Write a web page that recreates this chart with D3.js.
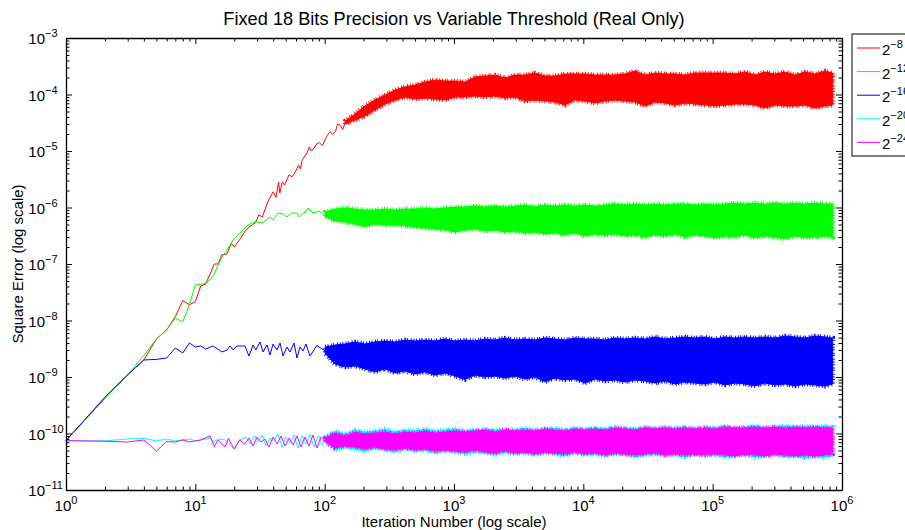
<!DOCTYPE html>
<html>
<head>
<meta charset="utf-8">
<script src="https://cdn.jsdelivr.net/npm/d3@7"></script>
<style>
  body { margin: 0; background: #fff; }
  svg { display: block; font-family: "Liberation Sans", Arial, sans-serif; }
</style>
</head>
<body>
<div id="chart"></div>
<script>
// Square error vs iteration

// tick labels (powers of ten)
var xTickExps = [0, 1, 2, 3, 4, 5, 6];
var yTickExps = [-11, -10, -9, -8, -7, -6, -5, -4, -3];

// legend: thresholds 2^k
var legendExps = [-8, -12, -16, -20, -24];
var seriesColors = ["#ff0000", "#00ff00", "#0000ff", "#00ffff", "#ff00ff"];

// early part of each run: [iteration, square error]
var redEarly = [[1, 7.5e-11], [2, 4.2e-10], [3, 1.1e-9], [4, 2.0e-9], [5, 4.7e-9], [6, 6.8e-9], [7, 1.17e-8], [8, 2.24e-8], [9, 1.9e-8], [10, 2.15e-8], [11, 4.1e-8], [12, 4.4e-8], [13, 6.6e-8], [14, 1.0e-7], [15, 1.0e-7], [16, 1.45e-7], [17.5, 1.5e-7], [19, 2.3e-7], [20, 2.0e-7], [22, 2.7e-7], [24, 3.7e-7], [26, 4.5e-7], [29, 5.3e-7], [31, 7.4e-7], [33, 6.8e-7], [36, 1.2e-6], [37, 1.36e-6], [40, 1.9e-6], [42, 1.5e-6], [44, 2.8e-6], [45, 1.8e-6], [47, 2.8e-6], [49, 2.5e-6], [53, 3.8e-6], [56, 3.5e-6], [58, 3.9e-6], [63, 5.6e-6], [65, 4.8e-6], [67, 6.9e-6], [73, 9.2e-6], [76, 1.18e-5], [79, 1.0e-5], [83, 1.13e-5], [87, 1.35e-5], [91, 1.4e-5], [96, 1.25e-5], [101, 1.6e-5], [105, 1.9e-5], [110, 2.2e-5], [115, 2.0e-5], [121, 2.2e-5], [126, 3.0e-5], [132, 2.9e-5], [138, 2.4e-5], [144, 3.2e-5]];

var greenEarly = [[1, 7.5e-11], [2, 4.2e-10], [3, 1.1e-9], [4, 2.4e-9], [5, 4.7e-9], [6, 6.8e-9], [7, 1.1e-8], [8, 9.5e-9], [9, 1.9e-8], [10, 4.3e-8], [11, 4.3e-8], [12, 4.6e-8], [13, 5.2e-8], [14, 6.6e-8], [15, 9.6e-8], [16, 1.3e-7], [17.6, 1.77e-7], [19.6, 2.66e-7], [21.4, 3.26e-7], [23.4, 4.0e-7], [25.5, 4.9e-7], [27.4, 5.32e-7], [30, 5.54e-7], [32.8, 5.32e-7], [35.2, 6.0e-7], [37.8, 6.8e-7], [39.9, 6.0e-7], [43.6, 8.0e-7], [47.6, 7.7e-7], [51.1, 6.8e-7], [55.9, 8.0e-7], [61.1, 8.0e-7], [63.4, 6.8e-7], [70.5, 8.3e-7], [74.3, 9.8e-7], [81.2, 8.0e-7], [90, 8.6e-7], [101, 7.4e-7]];

var blueEarly = [[1, 7.5e-11], [2, 4.4e-10], [3, 1.1e-9], [4, 2.0e-9], [5, 2.05e-9], [6, 2.17e-9], [7, 3.26e-9], [8, 2.66e-9], [9, 4.0e-9], [10, 3.4e-9], [11, 3.54e-9], [12, 3.13e-9], [13.7, 3.54e-9], [16.1, 2.77e-9], [17.6, 3.01e-9], [18.5, 3.54e-9], [19.6, 3.01e-9], [21, 3.54e-9], [22.1, 3.54e-9], [24.2, 3.54e-9], [26, 2.35e-9], [27.9, 3.68e-9], [29.4, 3.01e-9], [31.6, 4.17e-9], [33.4, 2.77e-9], [35.8, 3.68e-9], [37.8, 2.45e-9], [39.9, 3.84e-9], [42.8, 3.01e-9], [45.2, 4.0e-9], [47.6, 2.35e-9], [51.1, 3.4e-9], [54, 2.77e-9], [57.9, 4.0e-9], [61.1, 2.17e-9], [64.5, 3.4e-9], [68, 2.89e-9], [71.7, 3.84e-9], [77, 2.35e-9], [87, 3.6e-9], [101, 2.9e-9]];

var cyanEarly = [[1, 7.46e-11], [2, 7.4e-11], [3, 8.0e-11], [4, 8.2e-11], [5, 7.4e-11], [6, 8.0e-11], [7, 7.4e-11], [9, 8.0e-11], [10, 7.4e-11], [13, 8.2e-11], [14, 7.1e-11], [15, 8.0e-11], [17, 7.7e-11], [20, 5.3e-11], [22, 7.7e-11], [24.7, 8.67e-11], [26.5, 6.52e-11], [28.5, 9.03e-11], [30.5, 7.07e-11], [32.8, 9.4e-11], [35.2, 6.01e-11], [37.8, 8.32e-11], [40.5, 7.37e-11], [43.6, 9.8e-11], [46.8, 5.77e-11], [50.3, 8.67e-11], [54, 6.79e-11], [57.9, 9.4e-11], [62.2, 5.54e-11], [66.8, 9.03e-11], [71.7, 6.52e-11], [77, 9.8e-11], [82.6, 5.77e-11], [88.9, 9.03e-11], [95.5, 6.26e-11], [101, 8.0e-11]];

var magentaEarly = [[1, 7.46e-11], [2, 7.3e-11], [3, 7.07e-11], [4, 7.67e-11], [5, 4.9e-11], [6, 7.2e-11], [7, 7.07e-11], [8, 7.67e-11], [9, 7.1e-11], [11, 7.67e-11], [13, 9.1e-11], [14, 5.8e-11], [15, 7.67e-11], [17, 5.8e-11], [18, 8.2e-11], [20, 5.3e-11], [22, 7.67e-11], [24.2, 6.52e-11], [26, 8.32e-11], [27.9, 6.01e-11], [30, 8.67e-11], [32.2, 7.07e-11], [34.6, 8.0e-11], [37.1, 5.77e-11], [39.9, 8.67e-11], [42.8, 6.52e-11], [46, 9.03e-11], [49.4, 6.01e-11], [53.1, 8.32e-11], [57, 6.26e-11], [61.1, 9.03e-11], [65.6, 5.77e-11], [70.5, 8.67e-11], [75.7, 6.01e-11], [81.2, 9.4e-11], [87.2, 5.54e-11], [93.8, 8.67e-11], [101, 7.5e-11]];

// later, dense part: iterations and the upper / lower envelope of each run
var bandIters = [101, 120, 144, 172, 205, 245, 293, 350, 418, 500, 597, 713, 852, 1018, 1217, 1453, 1738, 2075, 2478, 2964, 3540, 4229, 5055, 6039, 7214, 8630, 10300, 12300, 14720, 17580, 20990, 25120, 29990, 35810, 42850, 51170, 61090, 73110, 87300, 104300, 124700, 148900, 177800, 212800, 254100, 303400, 363100, 433500, 517600, 618000, 739600, 847000];

var redHi = [null, null, 3.4e-5, 4.52e-5, 6.26e-5, 7.99e-5, 9.80e-5, 1.20e-4, 1.36e-4, 1.47e-4, 1.66e-4, 1.81e-4, 1.73e-4, 1.73e-4, 1.66e-4, 2.04e-4, 2.12e-4, 2.21e-4, 1.96e-4, 2.21e-4, 2.21e-4, 2.40e-4, 2.12e-4, 2.12e-4, 2.31e-4, 2.31e-4, 2.31e-4, 2.21e-4, 2.21e-4, 2.21e-4, 2.31e-4, 2.61e-4, 2.21e-4, 2.40e-4, 2.31e-4, 2.31e-4, 2.21e-4, 2.40e-4, 2.40e-4, 2.40e-4, 2.40e-4, 2.31e-4, 2.50e-4, 2.21e-4, 2.50e-4, 2.31e-4, 2.50e-4, 2.21e-4, 2.50e-4, 2.31e-4, 2.61e-4, 2.40e-4];
var redLo = [null, null, 3.0e-5, 3.54e-5, 4.17e-5, 5.32e-5, 6.79e-5, 7.99e-5, 9.03e-5, 8.32e-5, 8.67e-5, 8.32e-5, 7.99e-5, 9.03e-5, 9.03e-5, 9.40e-5, 9.03e-5, 9.40e-5, 8.67e-5, 9.03e-5, 7.67e-5, 7.99e-5, 7.67e-5, 7.37e-5, 6.52e-5, 7.99e-5, 7.67e-5, 7.07e-5, 7.67e-5, 7.99e-5, 7.67e-5, 7.37e-5, 6.26e-5, 7.37e-5, 7.07e-5, 6.52e-5, 7.07e-5, 6.79e-5, 6.52e-5, 6.26e-5, 6.52e-5, 6.79e-5, 6.79e-5, 6.52e-5, 5.77e-5, 6.52e-5, 6.26e-5, 6.26e-5, 6.52e-5, 5.77e-5, 6.26e-5, 6.52e-5];

var greenHi = [8.3e-7, 9.40e-7, 9.80e-7, 9.40e-7, 9.03e-7, 9.03e-7, 9.40e-7, 9.03e-7, 9.40e-7, 9.40e-7, 9.80e-7, 9.40e-7, 9.80e-7, 1.02e-6, 1.02e-6, 1.06e-6, 1.02e-6, 1.06e-6, 1.02e-6, 1.06e-6, 1.11e-6, 1.02e-6, 1.11e-6, 1.06e-6, 1.11e-6, 1.06e-6, 1.11e-6, 1.06e-6, 1.11e-6, 1.15e-6, 1.11e-6, 1.15e-6, 1.11e-6, 1.15e-6, 1.11e-6, 1.15e-6, 1.15e-6, 1.11e-6, 1.15e-6, 1.11e-6, 1.15e-6, 1.20e-6, 1.15e-6, 1.20e-6, 1.15e-6, 1.20e-6, 1.15e-6, 1.20e-6, 1.15e-6, 1.20e-6, 1.15e-6, 1.15e-6];
var greenLo = [6.8e-7, 5.77e-7, 5.54e-7, 5.11e-7, 4.6e-7, 5.11e-7, 4.90e-7, 4.90e-7, 4.71e-7, 4.52e-7, 4.34e-7, 4.17e-7, 4.00e-7, 3.7e-7, 4.00e-7, 4.17e-7, 3.84e-7, 4.00e-7, 3.68e-7, 3.84e-7, 3.54e-7, 3.68e-7, 3.40e-7, 3.54e-7, 3.26e-7, 3.54e-7, 3.13e-7, 3.40e-7, 3.26e-7, 3.40e-7, 3.13e-7, 3.26e-7, 3.01e-7, 3.26e-7, 3.13e-7, 3.40e-7, 3.01e-7, 3.26e-7, 3.13e-7, 2.89e-7, 3.13e-7, 3.01e-7, 3.26e-7, 2.89e-7, 3.13e-7, 3.01e-7, 2.77e-7, 3.13e-7, 2.89e-7, 3.01e-7, 3.13e-7, 3.01e-7];

var blueHi = [3.4e-9, 3.68e-9, 3.84e-9, 4.17e-9, 3.84e-9, 4.17e-9, 4.34e-9, 4.17e-9, 4.52e-9, 4.34e-9, 4.52e-9, 4.34e-9, 4.71e-9, 4.34e-9, 4.52e-9, 4.34e-9, 4.71e-9, 4.52e-9, 4.90e-9, 4.52e-9, 4.71e-9, 4.52e-9, 4.90e-9, 4.71e-9, 4.52e-9, 4.90e-9, 4.71e-9, 4.71e-9, 4.52e-9, 4.90e-9, 4.71e-9, 4.90e-9, 4.71e-9, 5.11e-9, 4.71e-9, 4.90e-9, 5.11e-9, 4.90e-9, 5.11e-9, 4.71e-9, 5.11e-9, 4.90e-9, 5.11e-9, 4.90e-9, 5.11e-9, 4.90e-9, 5.32e-9, 5.11e-9, 4.90e-9, 5.32e-9, 5.11e-9, 4.90e-9];
var blueLo = [2.6e-9, 1.70e-9, 1.50e-9, 1.57e-9, 1.39e-9, 1.23e-9, 1.39e-9, 1.18e-9, 1.28e-9, 1.13e-9, 1.23e-9, 1.08e-9, 1.18e-9, 1.04e-9, 9.0e-10, 1.08e-9, 1.00e-9, 1.04e-9, 9.60e-10, 1.04e-9, 9.22e-10, 1.00e-9, 8.2e-10, 9.60e-10, 8.85e-10, 9.22e-10, 7.8e-10, 9.22e-10, 8.50e-10, 8.85e-10, 8.16e-10, 8.85e-10, 8.50e-10, 7.83e-10, 8.50e-10, 7.52e-10, 8.16e-10, 7.83e-10, 7.52e-10, 8.16e-10, 7.22e-10, 7.83e-10, 7.52e-10, 6.93e-10, 7.83e-10, 7.22e-10, 7.52e-10, 6.93e-10, 7.52e-10, 7.22e-10, 6.9e-10, 7.52e-10];

var cyanHi = [8.7e-11, 1.11e-10, 9.8e-11, 1.15e-10, 1.06e-10, 1.11e-10, 1.20e-10, 1.06e-10, 1.15e-10, 1.11e-10, 1.20e-10, 1.11e-10, 1.15e-10, 1.20e-10, 1.11e-10, 1.15e-10, 1.20e-10, 1.15e-10, 1.20e-10, 1.15e-10, 1.25e-10, 1.15e-10, 1.20e-10, 1.25e-10, 1.15e-10, 1.25e-10, 1.20e-10, 1.25e-10, 1.20e-10, 1.30e-10, 1.25e-10, 1.20e-10, 1.30e-10, 1.25e-10, 1.30e-10, 1.25e-10, 1.30e-10, 1.25e-10, 1.30e-10, 1.25e-10, 1.36e-10, 1.25e-10, 1.30e-10, 1.36e-10, 1.25e-10, 1.30e-10, 1.36e-10, 1.30e-10, 1.36e-10, 1.30e-10, 1.36e-10, 1.30e-10];
var cyanLo = [7.4e-11, 5.11e-11, 5.77e-11, 5.32e-11, 4.90e-11, 5.54e-11, 5.11e-11, 4.71e-11, 5.32e-11, 4.90e-11, 5.11e-11, 4.52e-11, 4.90e-11, 4.71e-11, 4.34e-11, 4.71e-11, 4.52e-11, 4.17e-11, 4.71e-11, 4.34e-11, 4.52e-11, 4.17e-11, 4.52e-11, 4.34e-11, 4.00e-11, 4.52e-11, 4.17e-11, 4.34e-11, 4.00e-11, 4.34e-11, 4.17e-11, 3.84e-11, 4.17e-11, 4.34e-11, 4.00e-11, 4.17e-11, 3.84e-11, 4.17e-11, 4.00e-11, 4.17e-11, 3.84e-11, 4.00e-11, 4.17e-11, 3.84e-11, 4.00e-11, 4.17e-11, 3.84e-11, 4.00e-11, 3.69e-11, 4.00e-11, 3.84e-11, 4.00e-11];

var magentaHi = [8.3e-11, 1.02e-10, 9.03e-11, 1.06e-10, 9.80e-11, 1.02e-10, 1.06e-10, 9.80e-11, 1.06e-10, 1.02e-10, 1.11e-10, 1.02e-10, 1.06e-10, 1.11e-10, 1.06e-10, 1.11e-10, 1.15e-10, 1.06e-10, 1.15e-10, 1.11e-10, 1.15e-10, 1.11e-10, 1.20e-10, 1.15e-10, 1.11e-10, 1.20e-10, 1.15e-10, 1.20e-10, 1.15e-10, 1.25e-10, 1.20e-10, 1.15e-10, 1.25e-10, 1.20e-10, 1.25e-10, 1.20e-10, 1.25e-10, 1.20e-10, 1.25e-10, 1.20e-10, 1.30e-10, 1.25e-10, 1.25e-10, 1.30e-10, 1.25e-10, 1.30e-10, 1.25e-10, 1.30e-10, 1.25e-10, 1.30e-10, 1.25e-10, 1.25e-10];
var magentaLo = [7.1e-11, 5.54e-11, 6.01e-11, 5.77e-11, 5.32e-11, 5.77e-11, 5.32e-11, 5.11e-11, 5.54e-11, 5.11e-11, 5.32e-11, 4.90e-11, 5.11e-11, 4.90e-11, 4.71e-11, 5.11e-11, 4.71e-11, 4.52e-11, 4.90e-11, 4.52e-11, 4.71e-11, 4.34e-11, 4.71e-11, 4.52e-11, 4.34e-11, 4.71e-11, 4.34e-11, 4.52e-11, 4.17e-11, 4.52e-11, 4.34e-11, 4.17e-11, 4.34e-11, 4.52e-11, 4.17e-11, 4.34e-11, 4.17e-11, 4.34e-11, 4.17e-11, 4.34e-11, 4.17e-11, 4.00e-11, 4.34e-11, 4.17e-11, 4.00e-11, 4.34e-11, 4.17e-11, 4.00e-11, 4.17e-11, 4.00e-11, 4.17e-11, 4.34e-11];

// Size of the svg and of the axes box
var svgWidth = 905;
var svgHeight = 530;
var box = { left: 66, right: 842, top: 38, bottom: 490 };

var svg = d3.select("#chart")
  .append("svg")
  .attr("width", svgWidth)
  .attr("height", svgHeight);

svg.append("rect")
  .attr("width", svgWidth)
  .attr("height", svgHeight)
  .attr("fill", "#fff");

// Scales
var xScale = d3.scaleLog().domain([1, 1e6]).range([box.left, box.right]);
var yScale = d3.scaleLog().domain([1e-11, 1e-3]).range([box.bottom, box.top]);

var series = [
  { early: redEarly, hi: redHi, lo: redLo },
  { early: greenEarly, hi: greenHi, lo: greenLo },
  { early: blueEarly, hi: blueHi, lo: blueLo },
  { early: cyanEarly, hi: cyanHi, lo: cyanLo },
  { early: magentaEarly, hi: magentaHi, lo: magentaLo }
];

var line = d3.line()
  .x(d => xScale(d[0]))
  .y(d => yScale(d[1]));

var band = d3.area()
  .defined(d => d[1] != null && d[2] != null)
  .x(d => xScale(d[0]))
  .y0(d => yScale(d[1]))
  .y1(d => yScale(d[2]));

var plot = svg.append("g");

series.forEach(function(s, i) {
  var color = seriesColors[i];
  var bandData = bandIters.map((it, k) => [it, s.lo[k], s.hi[k]]);
  // solid body of the noisy band
  plot.append("path")
    .datum(bandData)
    .attr("d", band)
    .attr("fill", color)
    .attr("stroke", color)
    .attr("stroke-width", 1);
  // hairy edge, like the dense oscillation of the original trace
  plot.append("path")
    .datum(bandData)
    .attr("d", band)
    .attr("fill", "none")
    .attr("stroke", color)
    .attr("stroke-width", 4.5)
    .attr("stroke-dasharray", "1,1.6,1,2.4,1,1.1,1,3,1,1.8");
  plot.append("path")
    .datum(s.early)
    .attr("d", line)
    .attr("fill", "none")
    .attr("stroke", color)
    .attr("stroke-width", 1);
});

// Axes: ticks point inward on all four sides
function isDecade(v) {
  var l = Math.log10(v);
  return Math.abs(l - Math.round(l)) < 1e-9;
}
var xMajor = xTickExps.map(e => Math.pow(10, e));
var yMajor = yTickExps.map(e => Math.pow(10, e));
var xMinor = xScale.ticks().filter(v => !isDecade(v));
var yMinor = yScale.ticks().filter(v => !isDecade(v));

function drawAxis(axisFn, scale, major, minor, transform) {
  var g = svg.append("g").attr("transform", transform);
  g.call(axisFn(scale).tickValues(major).tickSize(-6).tickSizeOuter(0).tickFormat(""));
  g.append("g").call(axisFn(scale).tickValues(minor).tickSize(-3.5).tickSizeOuter(0).tickFormat(""))
    .select(".domain").remove();
  g.selectAll(".domain").attr("stroke", "#000").attr("stroke-width", 1.3);
  g.selectAll(".tick line").attr("stroke", "#000").attr("stroke-width", 1);
}
drawAxis(d3.axisBottom, xScale, xMajor, xMinor, `translate(0, ${box.bottom})`);
drawAxis(d3.axisTop, xScale, xMajor, xMinor, `translate(0, ${box.top})`);
drawAxis(d3.axisLeft, yScale, yMajor, yMinor, `translate(${box.left}, 0)`);
drawAxis(d3.axisRight, yScale, yMajor, yMinor, `translate(${box.right}, 0)`);

function expText(e) {
  return e < 0 ? "\u2212" + (-e) : String(e);
}

// x tick labels as 10^n, centred under the tick
svg.selectAll(".xlab")
  .data(xTickExps)
  .enter()
  .append("text")
  .attr("x", e => xScale(Math.pow(10, e)))
  .attr("y", box.bottom + 21)
  .attr("text-anchor", "middle")
  .attr("font-size", "15px")
  .each(function(e) {
    var t = d3.select(this);
    t.append("tspan").text("10");
    t.append("tspan").attr("dy", -7).attr("font-size", "11px").text(expText(e));
  });

// y tick labels: the "10" is right aligned, the exponent hangs after it
var ylabs = svg.selectAll(".ylab")
  .data(yTickExps)
  .enter()
  .append("g")
  .attr("transform", e => `translate(45, ${yScale(Math.pow(10, e)) + 6})`);
ylabs.append("text")
  .attr("text-anchor", "end")
  .attr("font-size", "15px")
  .text("10");
ylabs.append("text")
  .attr("y", -7)
  .attr("font-size", "11px")
  .text(e => expText(e));

// Title and axis labels
svg.append("text")
  .attr("x", (box.left + box.right) / 2)
  .attr("y", 25)
  .attr("text-anchor", "middle")
  .attr("font-size", "18.2px")
  .text("Fixed 18 Bits Precision vs Variable Threshold (Real Only)");

svg.append("text")
  .attr("x", (box.left + box.right) / 2)
  .attr("y", 527)
  .attr("text-anchor", "middle")
  .attr("font-size", "15px")
  .text("Iteration Number (log scale)");

svg.append("text")
  .attr("transform", `translate(23, ${(box.top + box.bottom) / 2})rotate(-90)`)
  .attr("text-anchor", "middle")
  .attr("font-size", "15px")
  .text("Square Error (log scale)");

// Legend (runs off the right edge like the original)
var legend = svg.append("g");
legend.append("rect")
  .attr("x", 852)
  .attr("y", 34)
  .attr("width", 90)
  .attr("height", 122)
  .attr("fill", "#fff")
  .attr("stroke", "#000")
  .attr("stroke-width", 1);

var entries = legend.selectAll(".entry")
  .data(legendExps)
  .enter()
  .append("g")
  .attr("transform", (d, i) => `translate(0, ${48 + i * 23.6})`);

entries.append("line")
  .attr("x1", 857)
  .attr("x2", 880)
  .attr("stroke", (d, i) => seriesColors[i])
  .attr("stroke-width", 1);

entries.append("text")
  .attr("x", 882)
  .attr("y", 7)
  .attr("font-size", "15px")
  .each(function(e) {
    var t = d3.select(this);
    t.append("tspan").text("2");
    t.append("tspan").attr("dy", -7).attr("font-size", "11px").text(expText(e));
  });
</script>
</body>
</html>
